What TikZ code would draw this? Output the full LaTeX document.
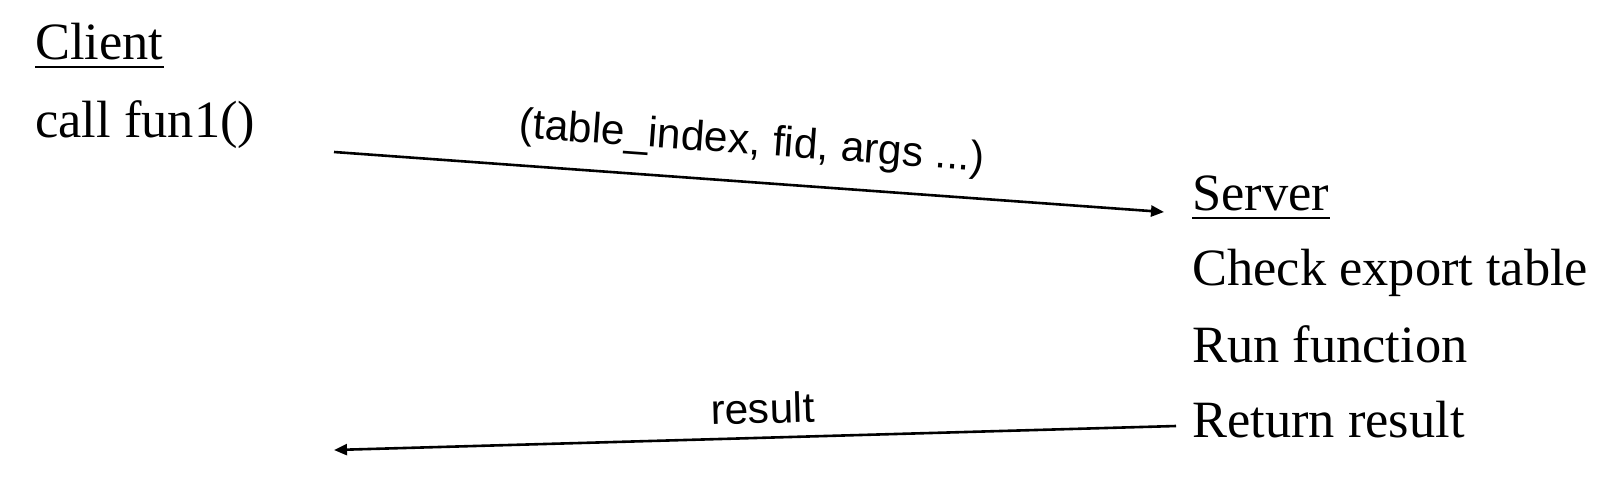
\documentclass[tikz,border=0pt]{standalone}
\usepackage{fontspec}
\setmainfont{Liberation Serif}
\newfontfamily\msgfont{Liberation Sans}
\usetikzlibrary{arrows.meta,calc}

\begin{document}
\begin{tikzpicture}[x=0.5pt,y=-0.5pt,
    step text/.style={anchor=base west,inner sep=0pt,font=\fontsize{26.2}{30}\selectfont},
    heading rule/.style={line width=1.35pt},
    msg/.style={line width=1.3pt,-{Triangle[length=6.5pt,width=5.5pt]}},
    msg label/.style={font=\msgfont\fontsize{21.2}{25}\selectfont,sloped}]
    \useasboundingbox (0,0) rectangle (1622,488);

    % 客户端
    \node[step text] (client) at (35,59) {Client};
    \node[step text] (call) at (35,137) {call fun1()};

    % 服务端
    \node[step text] (server) at (1192,210) {Server};
    \node[step text] (check) at (1192,285) {Check export table};
    \node[step text] (run) at (1192,362) {Run function};
    \node[step text] (ret) at (1192,437) {Return result};

    % 下划线
    \draw[heading rule] ($(client.base west)+(0,8)$) -- ($(client.base east)+(0,8)$);
    \draw[heading rule] ($(server.base west)+(0,8)$) -- ($(server.base east)+(0,8)$);

    % 消息端点
    \coordinate (req start) at (334,152);
    \coordinate (req end) at (1164,212);
    \coordinate (res start) at (1176,426);
    \coordinate (res end) at (334,450);

    % 请求
    \draw[msg] (req start) -- (req end)
        node[msg label,midway,above=5.5pt] (req) {(table\_index, fid, args ...)};

    % 返回
    \draw[msg] (res start) -- (res end)
        node[msg label,pos=0.49,above=3pt] (res) {result};
\end{tikzpicture}
\end{document}
